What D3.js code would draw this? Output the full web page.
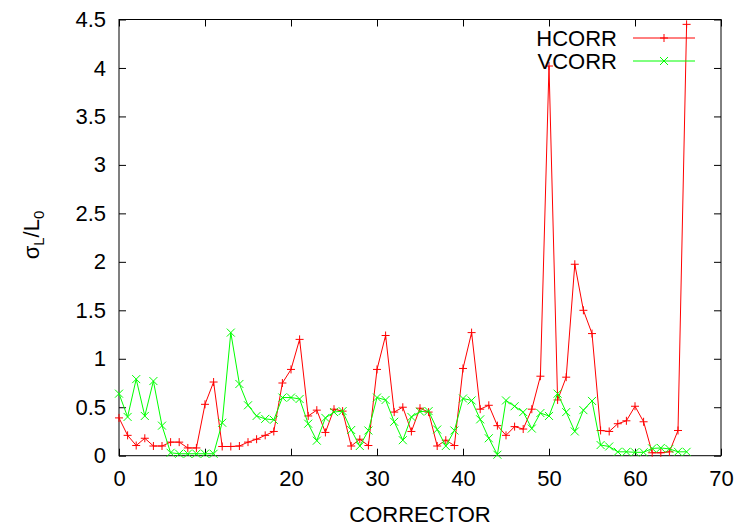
<!DOCTYPE html>
<html>
<head>
<meta charset="utf-8">
<script src="https://cdn.jsdelivr.net/npm/d3@7"></script>
<style>
	body {
		margin: 0;
		background: #fff;
	}
	text {
		font-family: 'Liberation Sans', Arial, sans-serif;
	}
</style>
</head>
<body>
<div class="svg-container"></div>
<script>
const w = 746;
const h = 528;

// values, one per corrector 0..66
const hcorr = [
	0.39, 0.21, 0.105, 0.18, 0.1, 0.1, 0.14, 0.14, 0.08, 0.08,
	0.53, 0.76, 0.095, 0.095, 0.1, 0.14, 0.17, 0.21, 0.25, 0.75,
	0.89, 1.2, 0.41, 0.47, 0.24, 0.48, 0.46, 0.1, 0.17, 0.105,
	0.89, 1.24, 0.45, 0.5, 0.25, 0.49, 0.45, 0.1, 0.16, 0.105,
	0.9, 1.27, 0.48, 0.52, 0.31, 0.21, 0.3, 0.275, 0.48, 0.82,
	4.02, 0.575, 0.81, 1.975, 1.5, 1.26, 0.26, 0.25, 0.33, 0.36,
	0.51, 0.35, 0.03, 0.03, 0.04, 0.26, 4.45
];
const vcorr = [
	0.64, 0.4, 0.79, 0.41, 0.77, 0.31, 0.03, 0.02, 0.02, 0.02,
	0.02, 0.02, 0.34, 1.27, 0.74, 0.52, 0.41, 0.38, 0.37, 0.6,
	0.6, 0.585, 0.33, 0.155, 0.39, 0.45, 0.46, 0.265, 0.1, 0.26,
	0.6, 0.575, 0.35, 0.16, 0.4, 0.455, 0.46, 0.27, 0.1, 0.26,
	0.59, 0.57, 0.375, 0.18, 0.01, 0.57, 0.51, 0.45, 0.28, 0.44,
	0.41, 0.64, 0.45, 0.25, 0.47, 0.565, 0.11, 0.095, 0.04, 0.04,
	0.035, 0.035, 0.075, 0.08, 0.07, 0.04, 0.04
];

const xTicks = [0, 10, 20, 30, 40, 50, 60, 70];
const yTicks = [0, 0.5, 1, 1.5, 2, 2.5, 3, 3.5, 4, 4.5];

const series = [
	{name: 'HCORR', values: hcorr, color: '#ff0000', marker: 'plus'},
	{name: 'VCORR', values: vcorr, color: '#00ff00', marker: 'cross'},
];

const plotLeft = 119;
const plotRight = 721;
const plotTop = 19.5;
const plotBottom = 455.7;
const fontSize = 22;
const tick = 7;

const svg = d3
	.select('.svg-container')
	.append('svg')
	.attr('width', w)
	.attr('height', h)
	.style('display', 'block')
	.style('background-color', '#fff');

const xScale = d3.scaleLinear().domain([0, 70]).range([plotLeft, plotRight]);
const yScale = d3.scaleLinear().domain([0, 4.5]).range([plotBottom, plotTop]);

const fmt = d3.format('~g');

function styleAxis(g) {
	g.select('.domain').remove();
	g.selectAll('line').attr('stroke', '#000').attr('stroke-width', 1);
	g.selectAll('text').attr('fill', '#000').style('font-size', fontSize + 'px');
}

svg
	.append('g')
	.attr('transform', `translate(0, ${plotBottom})`)
	.call(d3.axisBottom(xScale).tickValues(xTicks).tickFormat(fmt).tickSizeInner(-tick).tickSizeOuter(0).tickPadding(15))
	.call(styleAxis);

svg
	.append('g')
	.attr('transform', `translate(0, ${plotTop})`)
	.call(d3.axisTop(xScale).tickValues(xTicks).tickFormat('').tickSizeInner(-tick).tickSizeOuter(0))
	.call(styleAxis);

svg
	.append('g')
	.attr('transform', `translate(${plotLeft}, 0)`)
	.call(d3.axisLeft(yScale).tickValues(yTicks).tickFormat(fmt).tickSizeInner(-tick).tickSizeOuter(0).tickPadding(13))
	.call(styleAxis);

svg
	.append('g')
	.attr('transform', `translate(${plotRight}, 0)`)
	.call(d3.axisRight(yScale).tickValues(yTicks).tickFormat('').tickSizeInner(-tick).tickSizeOuter(0))
	.call(styleAxis);

svg
	.append('rect')
	.attr('x', plotLeft)
	.attr('y', plotTop)
	.attr('width', plotRight - plotLeft)
	.attr('height', plotBottom - plotTop)
	.attr('fill', 'none')
	.attr('stroke', '#000')
	.attr('stroke-width', 1);

// axis titles
svg
	.append('text')
	.attr('x', (plotLeft + plotRight) / 2)
	.attr('y', 522)
	.style('text-anchor', 'middle')
	.style('font-size', fontSize + 'px')
	.text('CORRECTOR');

const yLabel = svg
	.append('text')
	.attr('transform', 'translate(39, 235) rotate(-90)')
	.style('text-anchor', 'middle')
	.style('font-size', fontSize + 'px');
yLabel.append('tspan').text('σ');
yLabel.append('tspan').attr('dy', 5).style('font-size', '15px').text('L');
yLabel.append('tspan').attr('dy', -5).text('/L');
yLabel.append('tspan').attr('dy', 5).style('font-size', '15px').text('0');

const s = 4;
function markerPath(type) {
	return type === 'plus'
		? `M${-s},0H${s}M0,${-s}V${s}`
		: `M${-s},${-s}L${s},${s}M${-s},${s}L${s},${-s}`;
}

const line = d3
	.line()
	.x((d, i) => xScale(i))
	.y(d => yScale(d));

series.forEach((ser, k) => {
	const g = svg.append('g');
	g.append('path')
		.datum(ser.values)
		.attr('d', line)
		.attr('fill', 'none')
		.attr('stroke', ser.color)
		.attr('stroke-width', 1);

	g.selectAll('path.pt')
		.data(ser.values)
		.enter()
		.append('path')
		.attr('class', 'pt')
		.attr('transform', (d, i) => `translate(${xScale(i)}, ${yScale(d)})`)
		.attr('d', markerPath(ser.marker))
		.attr('stroke', ser.color)
		.attr('stroke-width', 1);

	// legend entry
	const ly = 38 + k * 23;
	svg
		.append('text')
		.attr('x', 617)
		.attr('y', ly)
		.attr('dy', '0.36em')
		.style('text-anchor', 'end')
		.style('font-size', fontSize + 'px')
		.text(ser.name);
	svg
		.append('line')
		.attr('x1', 633)
		.attr('x2', 695)
		.attr('y1', ly)
		.attr('y2', ly)
		.attr('stroke', ser.color)
		.attr('stroke-width', 1);
	svg
		.append('path')
		.attr('transform', `translate(664, ${ly})`)
		.attr('d', markerPath(ser.marker))
		.attr('stroke', ser.color)
		.attr('stroke-width', 1);
});
</script>
</body>
</html>
